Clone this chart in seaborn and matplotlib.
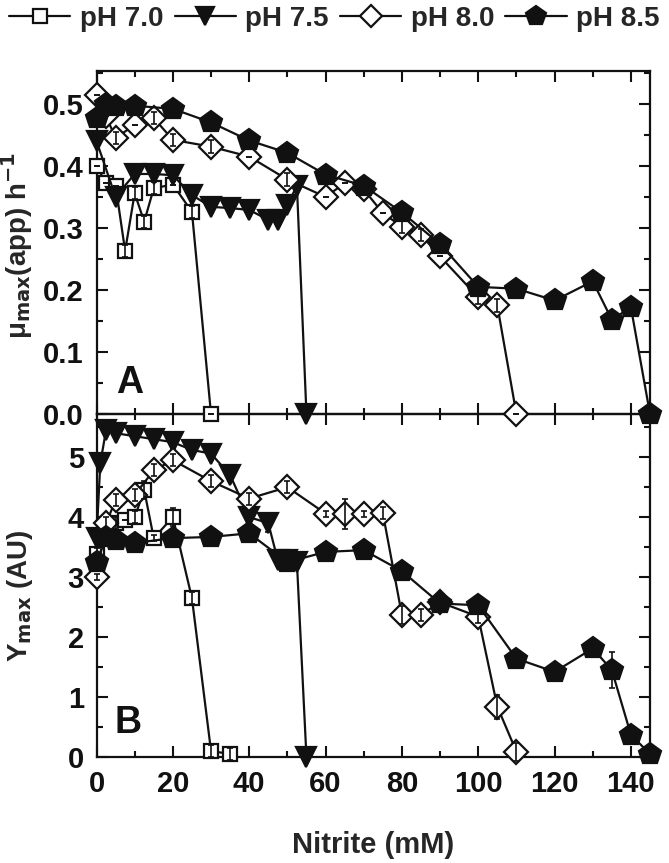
import matplotlib
matplotlib.use("Agg")
import matplotlib.pyplot as plt
import seaborn as sns
import numpy as np
from matplotlib.ticker import MultipleLocator, FormatStrFormatter
from matplotlib.lines import Line2D

sns.set_theme(style="ticks")
plt.rcParams['font.family'] = ['Liberation Sans', 'DejaVu Sans']
plt.rcParams['font.weight'] = 'bold'
plt.rcParams['mathtext.default'] = 'regular'

labels = ["pH 7.0", "pH 7.5", "pH 8.0", "pH 8.5"]

# Panel A: mu_max (app) h^-1
a70_x = [0, 2.5, 5, 7.5, 10, 12.5, 15, 20, 25, 30]
a70_y = [0.40, 0.372, 0.368, 0.263, 0.356, 0.310, 0.364, 0.37, 0.326, 0.0]
a70_e = [0, 0, 0, 0.01, 0.01, 0.01, 0.01, 0, 0.01, 0]

a75_x = [0, 5, 10, 15, 20, 25, 30, 35, 40, 45, 47.5, 50, 52.5, 55]
a75_y = [0.44, 0.35, 0.387, 0.387, 0.385, 0.353, 0.334, 0.332, 0.329, 0.313, 0.313, 0.337, 0.368, 0.0]
a75_e = [0, 0, 0.01, 0.01, 0.01, 0, 0.01, 0.01, 0.01, 0, 0.01, 0, 0, 0]

a80_x = [0, 2.5, 5, 10, 15, 20, 30, 40, 50, 60, 65, 70, 75, 80, 85, 90, 100, 105, 110]
a80_y = [0.515, 0.48, 0.445, 0.466, 0.477, 0.442, 0.431, 0.415, 0.378, 0.350, 0.372, 0.362,
         0.324, 0.302, 0.289, 0.254, 0.188, 0.175, 0.0]
a80_e = [0, 0, 0.01, 0, 0.01, 0.01, 0.01, 0, 0.01, 0, 0, 0, 0, 0.01, 0.01, 0, 0.01, 0.01, 0]

a85_x = [0, 2.5, 5, 10, 20, 30, 40, 50, 60, 70, 80, 90, 100, 110, 120, 130, 135, 140, 145]
a85_y = [0.478, 0.50, 0.497, 0.497, 0.492, 0.470, 0.441, 0.421, 0.386, 0.368, 0.325, 0.274,
         0.205, 0.202, 0.183, 0.214, 0.152, 0.172, 0.0]
a85_e = [0] * 19

# Panel B: Y_max (AU)
b70_x = [0, 2.5, 5, 7.5, 10, 12.5, 15, 20, 25, 30, 35]
b70_y = [3.38, 3.75, 3.9, 3.95, 4.0, 4.45, 3.65, 4.0, 2.65, 0.1, 0.05]
b70_e = [0.1, 0, 0.1, 0, 0.1, 0.15, 0.05, 0.15, 0.1, 0.1, 0.1]

b75_x = [0, 1, 2.5, 5, 10, 15, 20, 25, 30, 35, 40, 45, 47.5, 50, 52.5, 55]
b75_y = [3.65, 4.9, 5.45, 5.4, 5.35, 5.3, 5.25, 5.12, 5.06, 4.7, 4.0, 3.9, 3.28, 3.28, 3.25, 0.0]
b75_e = [0, 0, 0.05, 0.05, 0.05, 0.05, 0.1, 0.1, 0.1, 0.1, 0.1, 0.15, 0.1, 0.1, 0.1, 0]

b80_x = [0, 2.5, 5, 10, 15, 20, 30, 40, 50, 60, 65, 70, 75, 80, 85, 90, 100, 105, 110]
b80_y = [3.0, 3.9, 4.28, 4.37, 4.78, 4.95, 4.6, 4.31, 4.5, 4.06, 4.06, 4.06, 4.07,
         2.37, 2.37, 2.58, 2.34, 0.84, 0.09]
b80_e = [0.05, 0.1, 0.1, 0.1, 0.1, 0.1, 0.1, 0.1, 0.1, 0.05, 0.25, 0.05, 0.1,
         0.15, 0.1, 0.05, 0.1, 0.2, 0.15]

b85_x = [0, 2.5, 5, 10, 20, 30, 40, 50, 60, 70, 80, 90, 100, 110, 120, 130, 135, 140, 145]
b85_y = [3.25, 3.67, 3.62, 3.57, 3.65, 3.67, 3.73, 3.25, 3.42, 3.45, 3.1, 2.56, 2.53,
         1.64, 1.42, 1.81, 1.45, 0.37, 0.05]
b85_e = [0, 0, 0, 0, 0, 0, 0, 0, 0, 0, 0, 0, 0, 0, 0.05, 0, 0.3, 0, 0]

styles = [
    dict(marker='s', markersize=10.5, markerfacecolor='white'),
    dict(marker='v', markersize=15, markerfacecolor='#111111'),
    dict(marker='D', markersize=12, markerfacecolor='white'),
    dict(marker='p', markersize=16, markerfacecolor='#111111'),
]

W, H = 669, 863
fig = plt.figure(figsize=(W / 100, H / 100), dpi=100)
left, right = 96.5 / W, 650 / W
axA = fig.add_axes([left, 1 - 414 / H, right - left, (414 - 71) / H])
axB = fig.add_axes([left, 1 - 757 / H, right - left, (757 - 414) / H])
axA.set_zorder(3)
axB.set_zorder(2)
for ax in (axA, axB):
    ax.patch.set_alpha(0)

series_A = [(a70_x, a70_y, a70_e), (a75_x, a75_y, a75_e), (a80_x, a80_y, a80_e), (a85_x, a85_y, a85_e)]
series_B = [(b70_x, b70_y, b70_e), (b75_x, b75_y, b75_e), (b80_x, b80_y, b80_e), (b85_x, b85_y, b85_e)]

order = [3, 2, 0, 1]
for ax, series in ((axA, series_A), (axB, series_B)):
    for i in order:
        x, y, e = series[i]
        st = styles[i]
        sns.lineplot(x=x, y=y, ax=ax, color='#111111', linewidth=1.6, sort=False,
                     errorbar=None, marker=st['marker'], markersize=st['markersize'],
                     markerfacecolor=st['markerfacecolor'], markeredgecolor='#111111',
                     markeredgewidth=1.6, clip_on=False, zorder=3 + i, legend=False)
        ax.errorbar(x, y, yerr=e, fmt='none', ecolor='#111111', elinewidth=1.2,
                    capsize=2.5, capthick=1.2, clip_on=False, zorder=10)

for ax in (axA, axB):
    ax.set_xlim(0, 145)
    ax.xaxis.set_major_locator(MultipleLocator(20))
    ax.xaxis.set_minor_locator(MultipleLocator(10))
    ax.tick_params(which='both', direction='in', top=True, right=True, width=1.5,
                   labelsize=21, colors='#111111', pad=9)
    ax.tick_params(which='major', length=8)
    ax.tick_params(which='minor', length=4.5)
    for s in ax.spines.values():
        s.set_linewidth(1.6)
        s.set_color('#111111')

axA.set_ylim(0, 0.553)
axA.yaxis.set_major_locator(MultipleLocator(0.1))
axA.yaxis.set_minor_locator(MultipleLocator(0.05))
axA.yaxis.set_major_formatter(FormatStrFormatter('%.1f'))
axA.tick_params(axis='x', labelbottom=False)
axA.set_xlabel('')

axB.set_ylim(0, 5.72)
axB.yaxis.set_major_locator(MultipleLocator(1))
axB.yaxis.set_minor_locator(MultipleLocator(0.5))
axB.yaxis.set_major_formatter(FormatStrFormatter('%d'))

for ax in (axA, axB):
    for lab in ax.get_xticklabels() + ax.get_yticklabels():
        lab.set_fontweight('bold')

axA.set_ylabel(r'$\mu$$_{\mathbf{max}}$(app) h$^{\mathbf{-1}}$', fontsize=20,
               fontweight='bold')
axA.yaxis.set_label_coords(-0.112, 0.49)
axB.set_ylabel(r'Y$_{\mathbf{max}}$ (AU)', fontsize=20, fontweight='bold')
axB.yaxis.set_label_coords(-0.112, 0.47)
axB.set_xlabel('Nitrite (mM)', fontsize=21, fontweight='bold')
axB.xaxis.set_label_coords(0.5, -0.215)
axB.xaxis.label.set_va('top')

axA.text(0.036, 0.06, 'A', transform=axA.transAxes, fontsize=27, fontweight='bold',
         ha='left', va='baseline', color='#111111')
axB.text(0.033, 0.07, 'B', transform=axB.transAxes, fontsize=27, fontweight='bold',
         ha='left', va='baseline', color='#111111')

handles = [Line2D([], [], color='#111111', linewidth=1.6, marker=st['marker'],
                  markersize=st['markersize'] * 0.9, markerfacecolor=st['markerfacecolor'],
                  markeredgecolor='#111111', markeredgewidth=1.6) for st in styles]
fig.legend(handles, labels, loc='center', bbox_to_anchor=(0.5, 1 - 19 / H), ncol=4,
           frameon=False, prop={'weight': 'bold', 'size': 20},
           handlelength=2.2, columnspacing=0.4, handletextpad=0.35, borderpad=0,
           borderaxespad=0)

fig.savefig('out.png', dpi=100)
